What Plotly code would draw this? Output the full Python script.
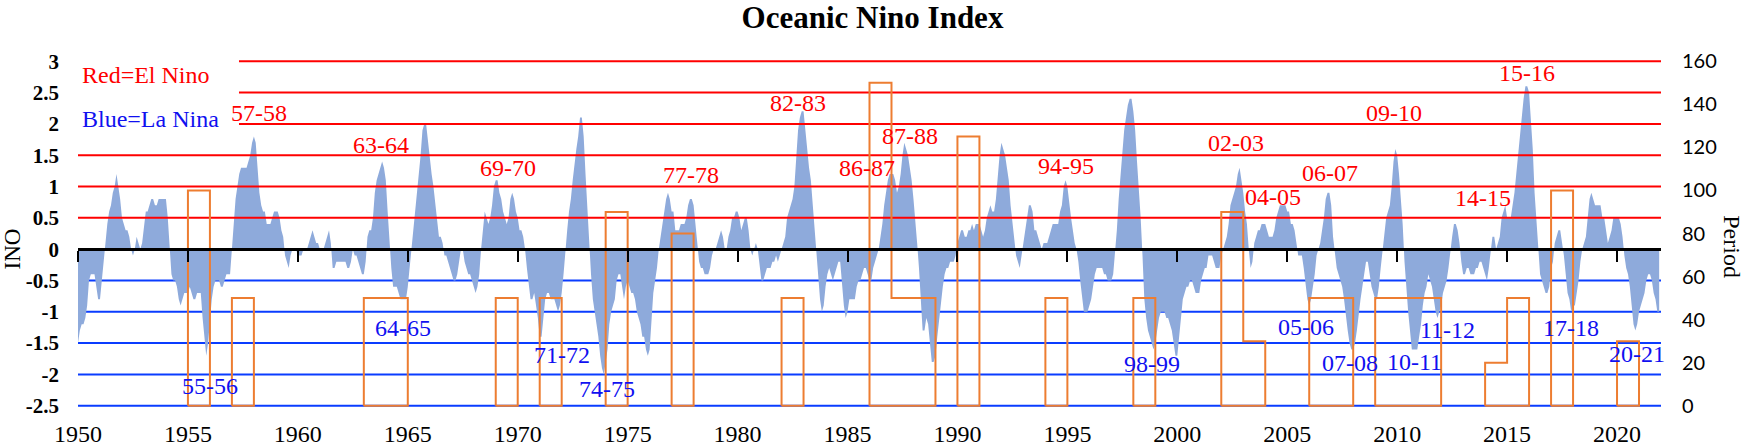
import numpy as np
import plotly.graph_objects as go

# monthly ONI values, one list per decade (Jan..Dec for each year)
oni_1950s = [
    -1.5, -1.3, -1.2, -1.2, -1.1, -0.9, -0.5, -0.4, -0.4, -0.4, -0.6, -0.8,
    -0.8, -0.5, -0.2, 0.2, 0.4, 0.6, 0.7, 0.9, 1.0, 1.2, 1.0, 0.8,
    0.5, 0.4, 0.3, 0.3, 0.2, 0.0, -0.1, 0.0, 0.2, 0.1, 0.0, 0.1,
    0.4, 0.6, 0.6, 0.7, 0.8, 0.8, 0.7, 0.7, 0.8, 0.8, 0.8, 0.8,
    0.8, 0.5, 0.0, -0.4, -0.5, -0.5, -0.6, -0.8, -0.9, -0.8, -0.7, -0.7,
    -0.7, -0.6, -0.7, -0.8, -0.8, -0.7, -0.7, -0.7, -1.1, -1.4, -1.7, -1.5,
    -1.1, -0.8, -0.6, -0.5, -0.5, -0.5, -0.6, -0.6, -0.5, -0.4, -0.4, -0.4,
    0.0, 0.4, 0.8, 1.0, 1.2, 1.3, 1.3, 1.3, 1.3, 1.4, 1.5, 1.7,
    1.8, 1.7, 1.3, 0.9, 0.7, 0.6, 0.6, 0.4, 0.4, 0.4, 0.5, 0.6,
    0.6, 0.6, 0.5, 0.3, 0.2, -0.1, -0.2, -0.3, -0.1, 0.0, 0.0, 0.0,
]
oni_1960s = [
    -0.1, -0.1, -0.1, 0.0, 0.0, 0.0, 0.1, 0.2, 0.3, 0.2, 0.1, 0.1,
    0.0, 0.0, 0.0, 0.1, 0.2, 0.3, 0.1, -0.3, -0.3, -0.2, -0.2, -0.2,
    -0.2, -0.2, -0.2, -0.3, -0.3, -0.2, 0.0, -0.1, -0.1, -0.2, -0.3, -0.4,
    -0.4, -0.2, 0.2, 0.3, 0.3, 0.5, 0.9, 1.1, 1.2, 1.3, 1.4, 1.3,
    1.1, 0.6, 0.1, -0.3, -0.6, -0.6, -0.6, -0.7, -0.8, -0.8, -0.8, -0.8,
    -0.6, -0.3, -0.1, 0.2, 0.5, 0.8, 1.2, 1.5, 1.9, 2.0, 2.0, 1.7,
    1.4, 1.2, 1.0, 0.7, 0.4, 0.2, 0.2, 0.1, -0.1, -0.1, -0.2, -0.3,
    -0.4, -0.5, -0.5, -0.4, -0.2, 0.0, 0.0, -0.2, -0.3, -0.4, -0.4, -0.5,
    -0.6, -0.7, -0.6, -0.4, 0.0, 0.3, 0.6, 0.5, 0.4, 0.5, 0.7, 1.0,
    1.1, 1.1, 0.9, 0.8, 0.6, 0.5, 0.4, 0.5, 0.8, 0.9, 0.8, 0.6,
]
oni_1970s = [
    0.5, 0.3, 0.3, 0.2, 0.0, -0.3, -0.6, -0.8, -0.8, -0.7, -0.9, -1.1,
    -1.4, -1.4, -1.1, -0.8, -0.7, -0.7, -0.8, -0.8, -0.8, -0.9, -1.0, -0.9,
    -0.7, -0.4, 0.0, 0.3, 0.6, 0.8, 1.1, 1.4, 1.6, 1.8, 2.1, 2.1,
    1.8, 1.2, 0.6, 0.0, -0.4, -0.8, -1.0, -1.2, -1.4, -1.7, -1.9, -2.0,
    -1.8, -1.6, -1.2, -1.0, -0.9, -0.8, -0.5, -0.4, -0.4, -0.6, -0.8, -0.6,
    -0.5, -0.6, -0.7, -0.7, -0.8, -1.0, -1.1, -1.2, -1.4, -1.4, -1.6, -1.7,
    -1.6, -1.2, -0.7, -0.5, -0.3, 0.0, 0.2, 0.4, 0.6, 0.8, 0.9, 0.8,
    0.6, 0.6, 0.3, 0.3, 0.3, 0.4, 0.4, 0.4, 0.5, 0.7, 0.8, 0.8,
    0.7, 0.4, 0.1, -0.2, -0.3, -0.3, -0.4, -0.4, -0.4, -0.3, -0.1, 0.0,
    0.0, 0.1, 0.2, 0.3, 0.2, 0.0, 0.0, 0.2, 0.3, 0.5, 0.5, 0.6,
]
oni_1980s = [
    0.6, 0.5, 0.3, 0.4, 0.5, 0.5, 0.3, 0.0, -0.1, 0.0, 0.1, 0.0,
    -0.3, -0.5, -0.5, -0.4, -0.3, -0.3, -0.3, -0.2, -0.2, -0.1, -0.2, -0.1,
    0.0, 0.1, 0.2, 0.5, 0.6, 0.7, 0.8, 1.0, 1.5, 1.9, 2.1, 2.2,
    2.2, 1.9, 1.5, 1.3, 1.1, 0.7, 0.3, -0.1, -0.5, -0.8, -1.0, -0.9,
    -0.6, -0.4, -0.3, -0.4, -0.5, -0.4, -0.3, -0.2, -0.2, -0.6, -0.9, -1.1,
    -1.0, -0.8, -0.8, -0.8, -0.8, -0.6, -0.5, -0.5, -0.4, -0.3, -0.3, -0.4,
    -0.5, -0.5, -0.3, -0.2, -0.1, 0.0, 0.2, 0.4, 0.7, 0.9, 1.1, 1.2,
    1.2, 1.2, 1.1, 0.9, 1.0, 1.2, 1.5, 1.7, 1.6, 1.5, 1.3, 1.1,
    0.8, 0.5, 0.1, -0.3, -0.9, -1.3, -1.3, -1.1, -1.2, -1.5, -1.8, -1.8,
    -1.7, -1.4, -1.1, -0.8, -0.6, -0.4, -0.3, -0.3, -0.2, -0.2, -0.2, -0.1,
]
oni_1990s = [
    0.1, 0.2, 0.3, 0.3, 0.2, 0.2, 0.3, 0.3, 0.4, 0.3, 0.4, 0.4,
    0.4, 0.3, 0.2, 0.3, 0.5, 0.6, 0.7, 0.6, 0.6, 0.8, 1.2, 1.5,
    1.7, 1.6, 1.5, 1.3, 1.1, 0.7, 0.4, 0.1, -0.1, -0.2, -0.3, -0.1,
    0.1, 0.3, 0.5, 0.7, 0.7, 0.6, 0.3, 0.3, 0.2, 0.1, 0.0, 0.1,
    0.1, 0.1, 0.2, 0.3, 0.4, 0.4, 0.4, 0.4, 0.6, 0.7, 1.0, 1.1,
    1.0, 0.7, 0.5, 0.3, 0.1, 0.0, -0.2, -0.5, -0.8, -1.0, -1.0, -1.0,
    -0.9, -0.8, -0.6, -0.4, -0.3, -0.3, -0.3, -0.3, -0.4, -0.4, -0.5, -0.5,
    -0.5, -0.4, -0.1, 0.3, 0.8, 1.2, 1.6, 1.9, 2.1, 2.3, 2.4, 2.4,
    2.2, 1.9, 1.4, 1.0, 0.5, -0.1, -0.8, -1.1, -1.3, -1.4, -1.5, -1.6,
    -1.5, -1.3, -1.1, -1.0, -1.0, -1.0, -1.1, -1.1, -1.2, -1.3, -1.5, -1.7,
]
oni_2000s = [
    -1.7, -1.4, -1.1, -0.8, -0.7, -0.6, -0.6, -0.5, -0.5, -0.6, -0.7, -0.7,
    -0.7, -0.5, -0.4, -0.3, -0.3, -0.1, -0.1, -0.1, -0.2, -0.3, -0.3, -0.3,
    -0.1, 0.0, 0.1, 0.2, 0.4, 0.7, 0.8, 0.9, 1.0, 1.2, 1.3, 1.1,
    0.9, 0.6, 0.4, 0.0, -0.3, -0.2, 0.1, 0.2, 0.3, 0.3, 0.4, 0.4,
    0.4, 0.3, 0.2, 0.2, 0.2, 0.3, 0.5, 0.6, 0.7, 0.7, 0.7, 0.7,
    0.6, 0.6, 0.4, 0.4, 0.3, 0.1, -0.1, -0.1, -0.1, -0.3, -0.6, -0.8,
    -0.9, -0.8, -0.6, -0.4, -0.1, 0.0, 0.1, 0.3, 0.5, 0.8, 0.9, 0.9,
    0.7, 0.2, -0.1, -0.3, -0.4, -0.5, -0.6, -0.8, -1.1, -1.3, -1.5, -1.6,
    -1.6, -1.5, -1.3, -1.0, -0.8, -0.6, -0.4, -0.2, -0.2, -0.4, -0.6, -0.7,
    -0.8, -0.8, -0.6, -0.3, 0.0, 0.3, 0.5, 0.6, 0.7, 1.0, 1.4, 1.6,
]
oni_2010s = [
    1.5, 1.2, 0.8, 0.4, -0.2, -0.7, -1.0, -1.3, -1.6, -1.6, -1.6, -1.6,
    -1.4, -1.2, -0.9, -0.7, -0.6, -0.4, -0.5, -0.6, -0.8, -1.0, -1.1, -1.0,
    -0.9, -0.7, -0.6, -0.5, -0.3, 0.0, 0.2, 0.4, 0.4, 0.3, 0.1, -0.2,
    -0.4, -0.4, -0.3, -0.3, -0.4, -0.4, -0.4, -0.3, -0.3, -0.2, -0.2, -0.3,
    -0.4, -0.5, -0.3, 0.0, 0.2, 0.2, 0.0, 0.1, 0.2, 0.5, 0.6, 0.7,
    0.5, 0.5, 0.5, 0.7, 0.9, 1.2, 1.5, 1.9, 2.2, 2.4, 2.6, 2.6,
    2.5, 2.1, 1.6, 0.9, 0.4, -0.1, -0.4, -0.5, -0.6, -0.7, -0.7, -0.6,
    -0.3, -0.2, 0.1, 0.2, 0.3, 0.3, 0.1, -0.1, -0.4, -0.7, -0.8, -1.0,
    -0.9, -0.9, -0.7, -0.5, -0.2, 0.0, 0.1, 0.2, 0.5, 0.8, 0.9, 0.8,
    0.7, 0.7, 0.7, 0.7, 0.5, 0.5, 0.3, 0.1, 0.2, 0.3, 0.5, 0.5,
]
oni_2020s = [
    0.5, 0.5, 0.4, 0.2, -0.1, -0.3, -0.4, -0.6, -0.9, -1.2, -1.3, -1.2,
    -1.0, -0.9, -0.8, -0.7, -0.5, -0.4, -0.4, -0.5, -0.7, -0.8, -1.0, -1.0,
]

# event period (secondary axis), per year
period_years = [1955, 1957, 1963, 1964, 1969, 1971, 1974, 1977, 1982,
                1986, 1987, 1988, 1990, 1994, 1998, 2002, 2003,
                2006, 2007, 2009, 2010, 2011, 2014, 2015, 2017, 2020]
period_values = [100, 50, 50, 50, 50, 50, 90, 80, 50,
                 150, 50, 50, 125, 50, 50, 90, 30,
                 50, 50, 50, 50, 50, 20, 50, 100, 30]

el_nino_levels = [0.5, 1, 1.5, 2, 2.5, 3]
la_nina_levels = [-0.5, -1, -1.5, -2, -2.5]

el_nino_labels = ["57-58", "63-64", "69-70", "77-78", "82-83", "86-87", "87-88",
                  "94-95", "02-03", "04-05", "06-07", "09-10", "14-15", "15-16"]
el_nino_pos = [(1958.25, 2.17), (1963.79, 1.67), (1969.55, 1.29), (1977.86, 1.18),
               (1982.77, 2.33), (1985.9, 1.29), (1987.83, 1.8), (1994.92, 1.32),
               (2002.69, 1.69), (2004.34, 0.84), (2006.93, 1.22), (2009.84, 2.17),
               (2013.91, 0.82), (2015.91, 2.81)]
la_nina_labels = ["55-56", "64-65", "71-72", "74-75", "98-99", "05-06", "07-08",
                  "10-11", "11-12", "17-18", "20-21"]
la_nina_pos = [(1956.0, -2.19), (1964.79, -1.26), (1972.0, -1.69), (1974.04, -2.23),
               (1998.83, -1.83), (2005.87, -1.24), (2007.84, -1.82), (2010.79, -1.80),
               (2012.28, -1.29), (2017.9, -1.26), (2020.89, -1.67)]

x_range = [1950, 2022]
y_range = [-2.52, 3.02]
# right axis: 0..160 spans -2.5..3 on the left one
y2_range = [(v + 2.5) * 160 / 5.5 for v in y_range]

oni = np.array(oni_1950s + oni_1960s + oni_1970s + oni_1980s +
               oni_1990s + oni_2000s + oni_2010s + oni_2020s)
months = 1950 + np.arange(len(oni)) / 12

# step outline for the period bars, one closed box per run of years
px, py = [], []
yrs = list(period_years)
vals = dict(zip(period_years, period_values))
i = 0
while i < len(yrs):
    j = i
    while j + 1 < len(yrs) and yrs[j + 1] == yrs[j] + 1:
        j += 1
    px += [yrs[i], yrs[i]]
    py += [0, vals[yrs[i]]]
    for k in range(i, j + 1):
        px += [yrs[k] + 1]
        py += [vals[yrs[k]]]
        if k < j:
            px += [yrs[k] + 1]
            py += [vals[yrs[k + 1]]]
    px += [yrs[j] + 1, yrs[i], None]
    py += [0, 0, None]
    i = j + 1

SERIF = "Liberation Serif"
RED = "#ff0000"
BLUE = "#0a3cff"
TXT_BLUE = "#1010f0"

fig = go.Figure()

for lvl in la_nina_levels:
    fig.add_trace(go.Scatter(x=x_range, y=[lvl, lvl], mode="lines",
                             line=dict(color=BLUE, width=2), hoverinfo="skip"))

fig.add_trace(go.Scatter(x=months, y=oni, mode="lines", fill="tozeroy",
                         fillcolor="#8eaadb", line=dict(color="#8eaadb", width=0),
                         name="ONI"))

for lvl in el_nino_levels:
    fig.add_trace(go.Scatter(x=x_range, y=[lvl, lvl], mode="lines",
                             line=dict(color=RED, width=2), hoverinfo="skip"))

fig.add_trace(go.Scatter(x=px, y=py, mode="lines", yaxis="y2",
                         line=dict(color="#ed7d31", width=2), name="Period"))

ann = []
for t, (x, y) in zip(el_nino_labels, el_nino_pos):
    ann.append(dict(x=x, y=y, text=t, showarrow=False,
                    xanchor="center", yanchor="middle",
                    font=dict(family=SERIF, size=24, color=RED)))
for t, (x, y) in zip(la_nina_labels, la_nina_pos):
    ann.append(dict(x=x, y=y, text=t, showarrow=False,
                    xanchor="center", yanchor="middle",
                    font=dict(family=SERIF, size=24, color=TXT_BLUE)))

ann.append(dict(xref="paper", yref="paper", x=0.001, y=0.957,
                xanchor="left", yanchor="middle",
                text="Red=El Nino", showarrow=False,
                font=dict(family=SERIF, size=24, color=RED)))
ann.append(dict(xref="paper", yref="paper", x=0.001, y=0.830,
                xanchor="left", yanchor="middle",
                text="Blue=La Nina", showarrow=False,
                font=dict(family=SERIF, size=24, color=TXT_BLUE)))
ann.append(dict(xref="paper", yref="paper", x=-0.0415, y=0.455,
                xanchor="center", yanchor="middle",
                text="INO", textangle=-90, showarrow=False,
                font=dict(family=SERIF, size=23, color="black")))
ann.append(dict(xref="paper", yref="paper", x=1.0447, y=0.461,
                xanchor="center", yanchor="middle",
                text="Period", textangle=90, showarrow=False,
                font=dict(family=SERIF, size=24, color="black")))

y_ticks = [3, 2.5, 2, 1.5, 1, 0.5, 0, -0.5, -1, -1.5, -2, -2.5]
x_ticks = list(range(1950, 2021, 5))

fig.update_layout(
    width=1745, height=447,
    margin=dict(l=78, r=84, t=60, b=40),
    plot_bgcolor="white", paper_bgcolor="white",
    showlegend=False,
    title=dict(text="Oceanic Nino Index", x=0.5, xanchor="center",
               y=0.961, yanchor="middle",
               font=dict(family=SERIF, size=31, color="black", weight="bold")),
    xaxis=dict(range=x_range, anchor="free", automargin=False,
               position=(0 - y_range[0]) / (y_range[1] - y_range[0]),
               showgrid=False, zeroline=False,
               showline=True, linecolor="black", linewidth=3,
               ticks="outside", ticklen=11, tickwidth=2, tickcolor="black",
               tickvals=x_ticks, ticktext=[str(v) for v in x_ticks],
               ticklabelstandoff=151,
               tickfont=dict(family=SERIF, size=24, color="black")),
    yaxis=dict(range=y_range, automargin=False,
               showgrid=False, zeroline=False, showline=False,
               tickvals=y_ticks, ticktext=[f"{v:g}" for v in y_ticks],
               ticks="", ticklabelstandoff=18,
               tickfont=dict(family=SERIF, size=21, color="black", weight="bold")),
    yaxis2=dict(range=y2_range, overlaying="y", side="right", anchor="x",
                automargin=False,
                showgrid=False, zeroline=False, showline=False,
                tickvals=list(range(0, 161, 20)), ticks="", ticklabelstandoff=20,
                tickfont=dict(family="Lato", size=20, color="black")),
    annotations=ann,
    # white box behind the colour key, hides the top grid lines there
    shapes=[dict(type="rect", xref="paper", yref="paper",
                 x0=0, x1=0.1017, y0=0.798, y1=1.01,
                 fillcolor="white", line=dict(width=0), layer="above")],
)

# page body margin would shift the chart inside the window
fig.write_html("out.html", config={"displayModeBar": False},
               post_script="document.body.style.margin='0px';"
                           "document.body.style.overflow='hidden';")
